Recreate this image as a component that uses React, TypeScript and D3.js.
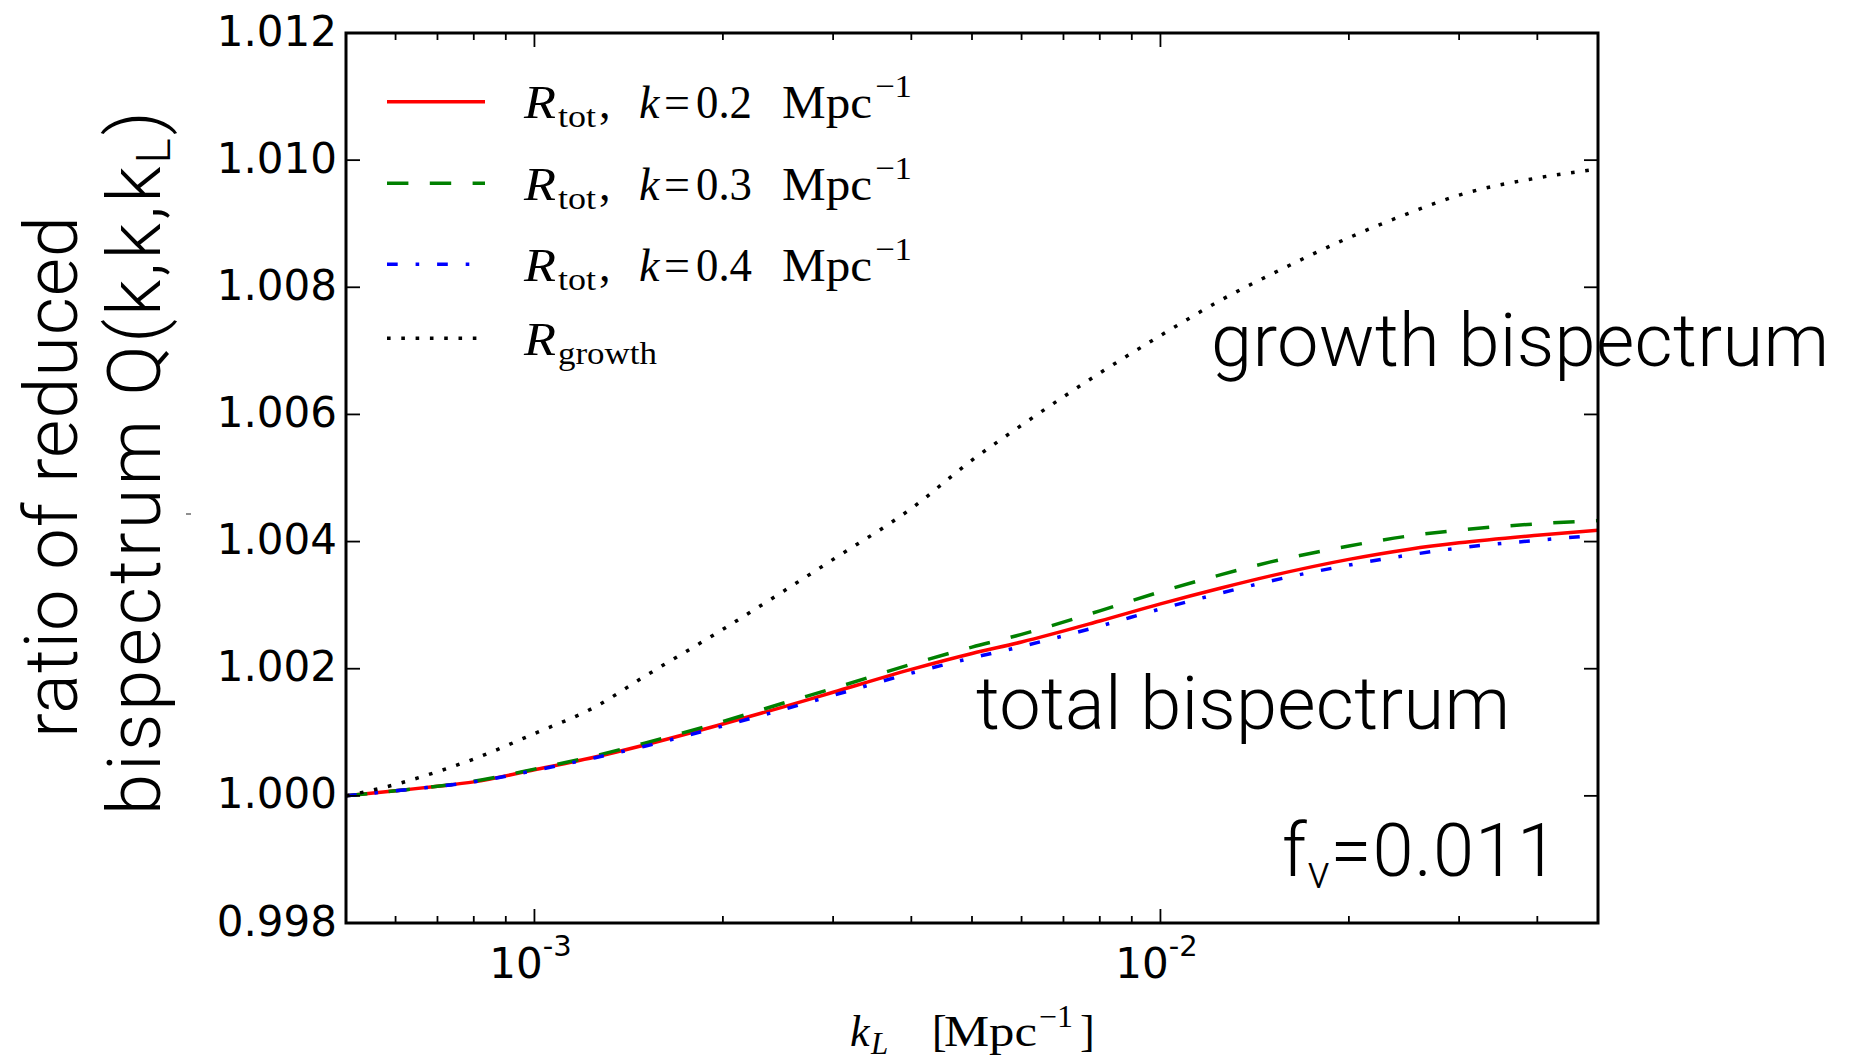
import React, { useEffect, useRef } from "react";
import * as d3 from "d3";

// k_L grid [Mpc^-1] and the ratios
const kL = [5e-4, 6e-4, 7e-4, 8e-4, 1e-3, 1.25e-3, 1.5e-3, 2e-3, 2.5e-3, 3e-3, 4e-3, 5e-3, 6e-3, 8e-3, 1e-2, 1.25e-2, 1.5e-2, 2e-2, 2.5e-2, 3e-2, 4e-2, 5e-2];
const rTotK02 = [1.0, 1.00008, 1.00015, 1.00022, 1.00041, 1.00061, 1.0008, 1.00113, 1.0014, 1.00163, 1.00199, 1.00224, 1.00242, 1.00275, 1.00302, 1.00327, 1.00346, 1.00372, 1.00388, 1.00398, 1.0041, 1.00418];
const rTotK03 = [1.0, 1.00008, 1.00015, 1.00023, 1.00042, 1.00063, 1.00083, 1.00117, 1.00146, 1.00169, 1.00207, 1.00234, 1.00254, 1.00291, 1.00321, 1.00348, 1.00368, 1.00393, 1.00409, 1.00418, 1.00428, 1.00433];
const rTotK04 = [1.0, 1.00008, 1.00015, 1.00022, 1.0004, 1.0006, 1.00078, 1.0011, 1.00136, 1.00158, 1.00193, 1.00217, 1.00235, 1.00267, 1.00294, 1.00319, 1.00338, 1.00363, 1.00379, 1.0039, 1.00402, 1.0041];
const rGrowth = [1.0, 1.00018, 1.00038, 1.00058, 1.00098, 1.0014, 1.00188, 1.00262, 1.00322, 1.00372, 1.00452, 1.00528, 1.00583, 1.00665, 1.00724, 1.0078, 1.0082, 1.00878, 1.00917, 1.00945, 1.00972, 1.00986];

const yTicks = [0.998, 1.0, 1.002, 1.004, 1.006, 1.008, 1.01, 1.012];
const yTickLabels = ["0.998", "1.000", "1.002", "1.004", "1.006", "1.008", "1.010", "1.012"];
const xMajor = [1e-3, 1e-2];
const xMajorExp = ["-3", "-2"];
const xMinor = [6e-4, 7e-4, 8e-4, 9e-4, 2e-3, 3e-3, 4e-3, 5e-3, 6e-3, 7e-3, 8e-3, 9e-3, 2e-2, 3e-2, 4e-2];
const legendK = ["0.2", "0.3", "0.4"];

const sans = "'DejaVu Sans', sans-serif";
const serif = "'Liberation Serif', 'Times New Roman', serif";
const light = "Roboto, 'Open Sans', sans-serif";

export default function App() {
  const ref = useRef<SVGSVGElement>(null);

  useEffect(() => {
    document.body.style.margin = "0";
    const svg = d3.select(ref.current);
    svg.selectAll("*").remove();

    const left = 346, right = 1598, top = 33, bottom = 923;
    const x = d3.scaleLog().domain([5e-4, 5e-2]).range([left, right]);
    const y = d3.scaleLinear().domain([0.998, 1.012]).range([bottom, top]);

    svg.append("defs").append("clipPath").attr("id", "plotclip")
      .append("rect").attr("x", left).attr("y", top)
      .attr("width", right - left).attr("height", bottom - top);

    const series = [
      { vals: rTotK02, color: "#ff0000", dash: null },
      { vals: rTotK03, color: "#008000", dash: "21.4,21.4" },
      { vals: rTotK04, color: "#0000ff", dash: "10.7,17.9,3.6,17.9" },
      { vals: rGrowth, color: "#000000", dash: "3.6,10.7" },
    ];

    const line = d3.line<number>()
      .x((d, i) => x(kL[i]))
      .y(d => y(d))
      .curve(d3.curveMonotoneX);

    const g = svg.append("g").attr("clip-path", "url(#plotclip)");
    g.selectAll("path")
      .data(series)
      .join("path")
      .attr("d", d => line(d.vals))
      .attr("fill", "none")
      .attr("stroke", d => d.color)
      .attr("stroke-width", 3.5)
      .attr("stroke-dasharray", d => d.dash)
      .attr("stroke-linecap", "butt");

    // ticks (inward, all four sides)
    const ticks = svg.append("g").attr("stroke", "#000").attr("stroke-width", 1.8);
    const xt = [...xMajor.map(v => ({ v, len: 14 })), ...xMinor.map(v => ({ v, len: 7 }))];
    xt.forEach(t => {
      ticks.append("line").attr("x1", x(t.v)).attr("x2", x(t.v)).attr("y1", bottom).attr("y2", bottom - t.len);
      ticks.append("line").attr("x1", x(t.v)).attr("x2", x(t.v)).attr("y1", top).attr("y2", top + t.len);
    });
    yTicks.forEach(v => {
      ticks.append("line").attr("x1", left).attr("x2", left + 14).attr("y1", y(v)).attr("y2", y(v));
      ticks.append("line").attr("x1", right).attr("x2", right - 14).attr("y1", y(v)).attr("y2", y(v));
    });

    svg.append("rect")
      .attr("x", left).attr("y", top)
      .attr("width", right - left).attr("height", bottom - top)
      .attr("fill", "none").attr("stroke", "#000").attr("stroke-width", 3);

    // y tick labels
    svg.append("g").selectAll("text")
      .data(yTicks)
      .join("text")
      .attr("x", left - 9)
      .attr("y", d => y(d) + 12.5)
      .attr("text-anchor", "end")
      .attr("font-family", sans)
      .attr("font-size", 42)
      .text((d, i) => yTickLabels[i]);

    // x tick labels 10^n
    xMajor.forEach((v, i) => {
      const t = svg.append("text")
        .attr("x", x(v) - 4).attr("y", 978)
        .attr("text-anchor", "middle")
        .attr("font-family", sans).attr("font-size", 42);
      t.append("tspan").text("10");
      t.append("tspan").attr("font-size", 29).attr("dy", -22).text(xMajorExp[i]);
    });

    // small serif pieces (mathtext look-alike)
    const piece = (parent: any, px: number, py: number, str: string, size: number, italic = false, len = 0) => {
      const t = parent.append("text")
        .attr("x", px).attr("y", py)
        .attr("font-family", serif).attr("font-size", size)
        .attr("font-style", italic ? "italic" : "normal")
        .text(str);
      if (len) t.attr("textLength", len).attr("lengthAdjust", "spacingAndGlyphs");
      return t;
    };

    // x axis label
    const xl = svg.append("g");
    const xb = 1046;
    piece(xl, 850, xb, "k", 44, true);
    piece(xl, 871, xb + 8, "L", 31, true);
    piece(xl, 932, xb, "[", 44);
    piece(xl, 944, xb, "Mpc", 44, false, 93);
    piece(xl, 1039, xb - 19, "\u22121", 31, false, 34);
    piece(xl, 1080, xb, "]", 44);

    // y axis label
    const yl = svg.append("g").attr("font-family", light).attr("font-weight", 300).attr("font-size", 74);
    yl.append("text").attr("transform", "translate(77,477) rotate(-90)")
      .attr("text-anchor", "middle")
      .attr("textLength", 522).attr("lengthAdjust", "spacing")
      .text("ratio of reduced");
    const yl2 = yl.append("text").attr("transform", "translate(160,463) rotate(-90)")
      .attr("text-anchor", "middle")
      .attr("textLength", 704).attr("lengthAdjust", "spacing");
    yl2.append("tspan").text("bispectrum Q(k,k,k");
    yl2.append("tspan").attr("font-size", 48).attr("dy", 10).text("L");
    yl2.append("tspan").attr("dy", -10).text(")");
    svg.append("line").attr("x1", 186).attr("x2", 191).attr("y1", 514).attr("y2", 514)
      .attr("stroke", "#444").attr("stroke-width", 1.2);

    // legend
    const rows = [101.7, 183.3, 264.3, 338.3];
    const lg = svg.append("g");
    series.forEach((s, i) => {
      lg.append("line")
        .attr("x1", 387).attr("x2", 485).attr("y1", rows[i]).attr("y2", rows[i])
        .attr("stroke", s.color).attr("stroke-width", 3.5)
        .attr("stroke-dasharray", s.dash);
      const b = rows[i] + 16.5;
      piece(lg, 524, b, "R", 47, true, 32);
      if (i < 3) {
        piece(lg, 558, b + 9, "tot", 32, false, 38);
        piece(lg, 599, b, ",", 46);
        piece(lg, 639, b, "k", 46, true);
        piece(lg, 664, b, "=", 46);
        piece(lg, 696, b, legendK[i], 46, false, 56);
        piece(lg, 782, b, "Mpc", 46, false, 90);
        piece(lg, 875, b - 21, "\u22121", 32, false, 37);
      } else {
        piece(lg, 558, b + 9, "growth", 32, false, 99);
      }
    });

    // annotations
    const ann = svg.append("g").attr("font-family", light).attr("font-weight", 300).attr("font-size", 74);
    ann.append("text").attr("x", 1211).attr("y", 366)
      .attr("textLength", 618).attr("lengthAdjust", "spacing").text("growth bispectrum");
    ann.append("text").attr("x", 976).attr("y", 729)
      .attr("textLength", 534).attr("lengthAdjust", "spacing").text("total bispectrum");
    const fv = ann.append("text").attr("x", 1282).attr("y", 876)
      .attr("textLength", 276).attr("lengthAdjust", "spacing");
    fv.append("tspan").text("f");
    fv.append("tspan").attr("font-size", 46).attr("dy", 12).text("\u03bd");
    fv.append("tspan").attr("dy", -12).text("=0.011");
  }, []);

  return <svg ref={ref} width={1853} height={1061} style={{ display: "block", background: "#fff" }} />;
}
